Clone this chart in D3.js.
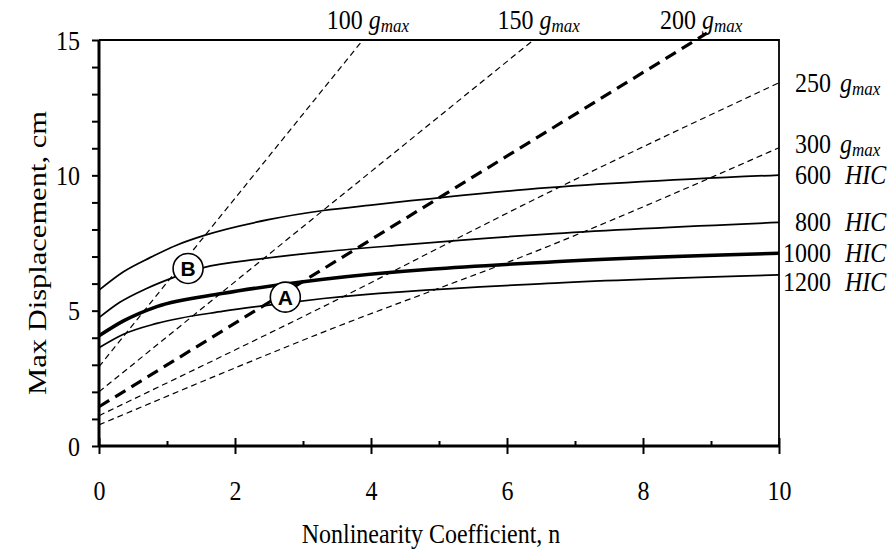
<!DOCTYPE html>
<html>
<head>
<meta charset="utf-8">
<script src="https://cdn.jsdelivr.net/npm/d3@7"></script>
<style>
  body { margin: 0; background: #fff; }
  svg text { font-family: "Liberation Serif", "Times New Roman", serif; fill: #000; }
</style>
</head>
<body>
<div id="chart"></div>
<script>
// HIC curves: [n, max displacement cm]
const hic600 = [[0, 5.76], [0.36, 6.44], [0.75, 6.96], [1.14, 7.42], [1.56, 7.79], [2.51, 8.37], [3.3, 8.7], [4, 8.9], [6.3, 9.48], [10, 10.01]];
const hic800 = [[0, 4.74], [0.3, 5.3], [0.7, 5.82], [1.12, 6.25], [1.52, 6.58], [2.4, 6.92], [3.32, 7.18], [4.47, 7.43], [6.7, 7.85], [10, 8.26]];
const hic1000 = [[0, 4.07], [0.36, 4.62], [0.85, 5.15], [1.83, 5.64], [3.3, 6.16], [6.7, 6.81], [10, 7.12]];
const hic1200 = [[0, 3.63], [0.36, 4.13], [0.85, 4.53], [1.83, 4.98], [2.7, 5.27], [3.3, 5.45], [6.7, 6.02], [10, 6.32]];
const hicLabels = ["600", "800", "1000", "1200"];

// g_max lines
const g100 = [[0, 2.93], [3.88, 15]];
const g150 = [[0, 2.0], [6.39, 15]];
const g200 = [[0, 1.45], [8.94, 15.25]];
const g250 = [[0, 1.12], [3.25, 5.09], [6.63, 9.39], [10, 13.42]];
const g300 = [[0, 0.78], [3.25, 4.16], [6.63, 7.4], [10, 11.02]];
const gLabels = ["100", "150", "200", "250", "300"];

const xTicks = [0, 2, 4, 6, 8, 10];
const xMinor = [1, 3, 5, 7, 9];
const yTicks = [0, 5, 10, 15];
const yMinor = [1, 2, 3, 4, 6, 7, 8, 9, 11, 12, 13, 14];

const markerLabels = ["B", "A"];
const markerN = [1.31, 2.74];
const markerD = [6.56, 5.5];

const width = 894;
const height = 551;
const stretchY = 1.12; // the original text is a bit taller than Times

const svg = d3.select("#chart")
  .append("svg")
  .attr("width", width)
  .attr("height", height);

const x = d3.scaleLinear().domain([0, 10]).range([99, 779]);
const y = d3.scaleLinear().domain([0, 15]).range([446, 40]);

const line = d3.line()
  .x((d) => x(d[0]))
  .y((d) => y(d[1]))
  .curve(d3.curveMonotoneX);

// move x/y into a transform so text can be stretched vertically
function stretch(sel) {
  sel.each(function () {
    const t = d3.select(this);
    const tx = +t.attr("x") || 0;
    const ty = +t.attr("y") || 0;
    t.attr("x", null).attr("y", null)
      .attr("transform", `translate(${tx},${ty}) scale(1,${stretchY})`);
  });
}

// frame (top + right)
svg.append("path")
  .attr("d", `M${x(0)},${y(15)}H${x(10)}V${y(0)}`)
  .attr("fill", "none")
  .attr("stroke", "#000")
  .attr("stroke-width", 1.8);

// g_max dashed lines
const gSeries = [g100, g150, g200, g250, g300];
gSeries.forEach((s, i) => {
  const thick = gLabels[i] === "200";
  svg.append("path")
    .attr("d", line(s))
    .attr("fill", "none")
    .attr("stroke", "#000")
    .attr("stroke-width", thick ? 3.2 : 1.2)
    .attr("stroke-dasharray", thick ? "12,7" : "6,4");
});

// HIC solid lines
const hicSeries = [hic600, hic800, hic1000, hic1200];
hicSeries.forEach((s, i) => {
  svg.append("path")
    .attr("d", line(s))
    .attr("fill", "none")
    .attr("stroke", "#000")
    .attr("stroke-width", hicLabels[i] === "1000" ? 3.6 : 1.7);
});

// axes
const xAxis = svg.append("g")
  .attr("transform", `translate(0,${y(0)})`)
  .call(d3.axisBottom(x).tickValues(xTicks).tickSize(8).tickFormat(d3.format("d")));
xAxis.selectAll(".tick line").attr("y1", -8).attr("stroke-width", 2);
xAxis.selectAll(".tick text").attr("y", 54).attr("dy", null);

svg.append("g")
  .attr("transform", `translate(0,${y(0)})`)
  .call(d3.axisTop(x).tickValues(xMinor).tickSize(5).tickFormat(""))
  .call((g) => g.select(".domain").remove())
  .selectAll(".tick line").attr("stroke-width", 2);

const yAxis = svg.append("g")
  .attr("transform", `translate(${x(0)},0)`)
  .call(d3.axisLeft(y).tickValues(yTicks).tickSize(7).tickPadding(12));
yAxis.selectAll(".tick line").attr("stroke-width", 2);
yAxis.selectAll(".tick text").attr("y", 9).attr("dy", null);

svg.append("g")
  .attr("transform", `translate(${x(0)},0)`)
  .call(d3.axisLeft(y).tickValues(yMinor).tickSize(7).tickFormat(""))
  .call((g) => g.select(".domain").remove())
  .selectAll(".tick line").attr("stroke-width", 2);

svg.selectAll(".domain").attr("stroke-width", 3);
xAxis.select(".domain").attr("d", `M${x(0)},0H${x(10)}`);
yAxis.select(".domain").attr("d", `M0,${y(0)}V${y(15)}`);

svg.selectAll(".tick text")
  .attr("font-family", null)
  .attr("font-size", 24)
  .call(stretch);

// axis titles
svg.append("text")
  .attr("x", 431)
  .attr("y", 543)
  .attr("text-anchor", "middle")
  .attr("font-size", 24)
  .text("Nonlinearity Coefficient, n")
  .call(stretch);

svg.append("text")
  .attr("transform", `translate(46,253) rotate(-90) scale(1.09,0.93)`)
  .attr("text-anchor", "middle")
  .attr("font-size", 28)
  .text("Max Displacement, cm");

// g_max labels: top ones at crossing with y=15, right ones at n=10
function gmaxUnit(sel) {
  sel.append("tspan").attr("font-style", "italic").text("g");
  sel.append("tspan").attr("font-style", "italic").attr("font-size", 17).attr("dy", 3).text("max");
}

gSeries.forEach((s, i) => {
  const a = s[s.length - 2], b = s[s.length - 1];
  if (b[0] < 10) {
    const nTop = a[0] + (15 - a[1]) * (b[0] - a[0]) / (b[1] - a[1]);
    const xc = x(nTop);
    svg.append("text")
      .attr("x", xc).attr("y", 29)
      .attr("text-anchor", "end").attr("font-size", 24)
      .text(gLabels[i])
      .call(stretch);
    svg.append("text")
      .attr("x", xc + 6).attr("y", 29)
      .attr("font-size", 24)
      .call(gmaxUnit)
      .call(stretch);
  } else {
    // 300 sits just above "600 HIC", lift it a little
    const yb = y(b[1]) + (gLabels[i] === "300" ? 5 : 9);
    svg.append("text")
      .attr("x", 831).attr("y", yb)
      .attr("text-anchor", "end").attr("font-size", 24)
      .text(gLabels[i])
      .call(stretch);
    svg.append("text")
      .attr("x", 840).attr("y", yb)
      .attr("font-size", 24)
      .call(gmaxUnit)
      .call(stretch);
  }
});

// HIC labels at right
hicSeries.forEach((s, i) => {
  const nudge = hicLabels[i] === "1200" ? 7 : 0;
  const yb = y(s[s.length - 1][1]) + nudge + 9;
  svg.append("text")
    .attr("x", 831).attr("y", yb)
    .attr("text-anchor", "end").attr("font-size", 24)
    .text(hicLabels[i])
    .call(stretch);
  svg.append("text")
    .attr("x", 845).attr("y", yb)
    .attr("font-size", 24).attr("font-style", "italic")
    .text("HIC")
    .call(stretch);
});

// circled markers
markerLabels.forEach((m, i) => {
  const g = svg.append("g")
    .attr("transform", `translate(${x(markerN[i])},${y(markerD[i])})`);
  g.append("circle")
    .attr("r", 15)
    .attr("fill", "#fff")
    .attr("stroke", "#000")
    .attr("stroke-width", 1.6);
  g.append("text")
    .attr("text-anchor", "middle")
    .attr("dy", "0.36em")
    .attr("font-size", 21)
    .attr("font-weight", "bold")
    .style("font-family", "'Liberation Sans', Arial, sans-serif")
    .text(m);
});
</script>
</body>
</html>
